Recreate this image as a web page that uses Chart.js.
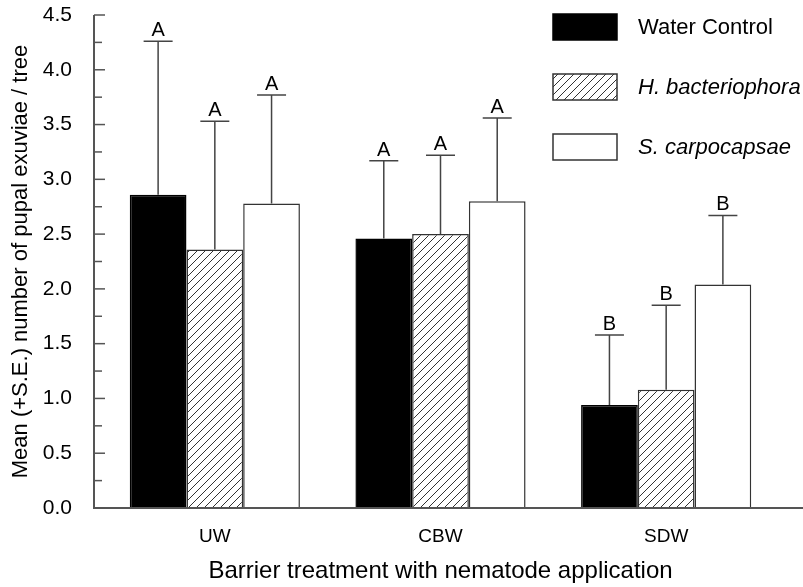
<!DOCTYPE html>
<html>
<head>
<meta charset="utf-8">
<script src="https://cdn.jsdelivr.net/npm/chart.js@4.4.1/dist/chart.umd.min.js"></script>
<style>
  html, body { margin: 0; padding: 0; background: #fff; }
  #wrap { width: 803px; height: 587px; }
</style>
</head>
<body>
<div id="wrap"><canvas id="chart" width="803" height="587"></canvas></div>
<script>
var categories = ['UW', 'CBW', 'SDW'];
var seriesNames = ['Water Control', 'H. bacteriophora', 'S. carpocapsae'];
var waterMean = [2.86, 2.46, 0.94];
var waterSE = [1.40, 0.71, 0.64];
var hbMean = [2.36, 2.50, 1.08];
var hbSE = [1.17, 0.72, 0.77];
var scMean = [2.78, 2.80, 2.04];
var scSE = [0.99, 0.76, 0.63];
var waterLetters = ['A', 'A', 'B'];
var hbLetters = ['A', 'A', 'B'];
var scLetters = ['A', 'A', 'B'];
var yTicks = [0, 0.5, 1, 1.5, 2, 2.5, 3, 3.5, 4, 4.5];

var FONT = '"Liberation Sans", Arial, Helvetica, sans-serif';

function hatch() {
    var c = document.createElement('canvas');
    c.width = 8; c.height = 8;
    var g = c.getContext('2d');
    g.fillStyle = '#fff';
    g.fillRect(0, 0, 8, 8);
    g.strokeStyle = '#333';
    g.lineWidth = 1;
    g.beginPath();
    g.moveTo(0, 8); g.lineTo(8, 0);
    g.moveTo(-1, 1); g.lineTo(1, -1);
    g.moveTo(7, 9); g.lineTo(9, 7);
    g.stroke();
    return g.createPattern(c, 'repeat');
}
var hatchFill = hatch();

var extras = {
    id: 'extras',
    afterDatasetsDraw: function(chart) {
        var ctx = chart.ctx;
        var y = chart.scales.y;
        var area = chart.chartArea;
        ctx.save();
        // axes
        ctx.strokeStyle = '#555';
        ctx.lineWidth = 2;
        ctx.beginPath();
        ctx.moveTo(94, area.bottom);
        ctx.lineTo(803, area.bottom);
        ctx.moveTo(94, area.bottom + 1);
        ctx.lineTo(94, y.getPixelForValue(4.5));
        ctx.stroke();
        ctx.lineWidth = 1.5;
        for (var v = 0; v <= 4.5001; v += 0.25) {
            var py = y.getPixelForValue(v);
            var major = Math.abs(v * 2 - Math.round(v * 2)) < 0.001;
            ctx.beginPath();
            ctx.moveTo(94, py);
            ctx.lineTo(major ? 105 : 102, py);
            ctx.stroke();
        }
        // error bars + letters
        chart.data.datasets.forEach(function(ds, di) {
            var meta = chart.getDatasetMeta(di);
            meta.data.forEach(function(bar, i) {
                var top = y.getPixelForValue(ds.data[i] + ds.se[i]);
                ctx.strokeStyle = '#444';
                ctx.lineWidth = 1.5;
                ctx.beginPath();
                ctx.moveTo(bar.x, bar.y);
                ctx.lineTo(bar.x, top);
                ctx.moveTo(bar.x - 14.5, top);
                ctx.lineTo(bar.x + 14.5, top);
                ctx.stroke();
                ctx.fillStyle = '#000';
                ctx.font = '20px ' + FONT;
                ctx.textAlign = 'center';
                ctx.textBaseline = 'alphabetic';
                ctx.fillText(ds.letters[i], bar.x, top - 5);
            });
        });
        // legend
        var rows = [14, 74, 134];
        chart.data.datasets.forEach(function(ds, di) {
            var ty = rows[di];
            ctx.fillStyle = ds.backgroundColor;
            ctx.fillRect(553, ty, 64, 26);
            ctx.strokeStyle = ds.borderColor;
            ctx.lineWidth = 1.5;
            ctx.strokeRect(553, ty, 64, 26);
            ctx.fillStyle = '#000';
            ctx.font = (di > 0 ? 'italic ' : '') + '22px ' + FONT;
            ctx.textAlign = 'left';
            ctx.textBaseline = 'middle';
            ctx.fillText(ds.label, 638, ty + 14);
        });
        ctx.restore();
    }
};

var ctx = document.getElementById('chart').getContext('2d');
var config = {
    type: 'bar',
    data: {
        labels: categories,
        datasets: [{
            label: seriesNames[0],
            data: waterMean,
            se: waterSE,
            letters: waterLetters,
            backgroundColor: '#000',
            borderColor: '#000',
            borderWidth: 1.5
        }, {
            label: seriesNames[1],
            data: hbMean,
            se: hbSE,
            letters: hbLetters,
            backgroundColor: hatchFill,
            borderColor: '#333',
            borderWidth: 1.5
        }, {
            label: seriesNames[2],
            data: scMean,
            se: scSE,
            letters: scLetters,
            backgroundColor: '#fff',
            borderColor: '#333',
            borderWidth: 1.5
        }]
    },
    options: {
        responsive: false,
        animation: false,
        events: [],
        layout: { padding: { top: 15, right: 24, left: 0, bottom: 0 } },
        plugins: { legend: { display: false }, tooltip: { enabled: false } },
        datasets: { bar: { categoryPercentage: 0.754, barPercentage: 1.0 } },
        scales: {
            x: {
                grid: { display: false, drawTicks: false },
                border: { display: false },
                ticks: { color: '#000', padding: 17, font: { family: FONT, size: 19 } },
                title: {
                    display: true,
                    text: 'Barrier treatment with nematode application',
                    color: '#000',
                    font: { family: FONT, size: 24 },
                    padding: { top: 0, bottom: 1 }
                },
                afterFit: function(s) { s.height = 79; s.paddingLeft = 0; s.paddingRight = 0; }
            },
            y: {
                min: 0,
                max: 4.5,
                afterBuildTicks: function(s) {
                    s.ticks = yTicks.map(function(v) { return { value: v }; });
                },
                grid: { display: false, drawTicks: false },
                border: { display: false },
                ticks: {
                    color: '#000',
                    padding: 30,
                    font: { family: FONT, size: 21 },
                    callback: function(v) { return v.toFixed(1); }
                },
                title: {
                    display: true,
                    text: 'Mean (+S.E.) number of pupal exuviae / tree',
                    color: '#000',
                    font: { family: FONT, size: 22 },
                    padding: { top: 8, bottom: 0 }
                },
                afterFit: function(s) { s.width = 102; s.paddingTop = 0; s.paddingBottom = 0; }
            }
        }
    },
    plugins: [extras]
};
var chart = new Chart(ctx, config);
</script>
</body>
</html>
